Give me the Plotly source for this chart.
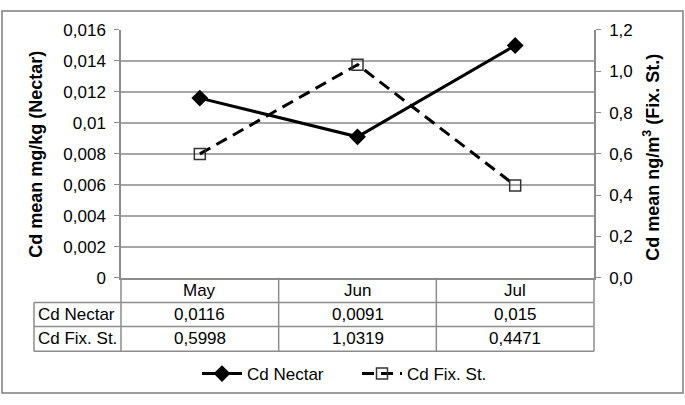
import plotly.graph_objects as go

months = ['May', 'Jun', 'Jul']
cd_nectar = [0.0116, 0.0091, 0.015]
cd_fix_st = [0.5998, 1.0319, 0.4471]
series_names = ['Cd Nectar', 'Cd Fix. St.']

left_ticks = [0, 0.002, 0.004, 0.006, 0.008, 0.01, 0.012, 0.014, 0.016]
left_labels = ['0', '0,002', '0,004', '0,006', '0,008', '0,01', '0,012', '0,014', '0,016']

W, H = 685, 405
FONT = 'Liberation Sans, Arial, sans-serif'
GRID = '#a6a6a6'
LINE = '#8c8c8c'


def px(x):
    return x / W


def py(y):
    return 1 - y / H


def fmt(v):
    return str(v).replace('.', ',')


fig = go.Figure()

fig.add_trace(go.Scatter(x=list(range(len(months))), y=cd_nectar, name=series_names[0],
                         mode='lines+markers',
                         line=dict(color='black', width=3),
                         marker=dict(symbol='diamond', size=13, color='black')))
fig.add_trace(go.Scatter(x=list(range(len(months))), y=cd_fix_st, name=series_names[1],
                         mode='lines+markers', yaxis='y2',
                         line=dict(color='black', width=3, dash='12px,7px'),
                         marker=dict(symbol='square-open', size=11, color='#333333',
                                     line=dict(width=1.5))))

# plot area in pixels
x0, x1, y0, y1 = 121, 594, 22, 282

fig.update_layout(
    width=W, height=H,
    margin=dict(l=0, r=0, t=0, b=0),
    paper_bgcolor='white', plot_bgcolor='white',
    separators=',.',
    font=dict(family=FONT, size=17, color='black'),
    showlegend=True,
    legend=dict(orientation='h', x=px(357), xanchor='center', y=py(383), yanchor='middle',
                font=dict(size=17), itemwidth=40, entrywidth=105, entrywidthmode='pixels'),
    xaxis=dict(domain=[px(x0), px(x1)], range=[-0.5, 2.5], showticklabels=False,
               showgrid=False, zeroline=False, showline=True, linecolor=LINE, linewidth=1.5,
               ticks=''),
    yaxis=dict(domain=[py(y1), py(y0)], range=[0, 0.016], tickvals=left_ticks,
               ticktext=left_labels, showgrid=True, gridcolor=GRID, gridwidth=1.5,
               zeroline=False, showline=True, linecolor=LINE, linewidth=1.5,
               ticks='outside', ticklen=5, tickcolor=LINE, ticklabelstandoff=5),
    yaxis2=dict(overlaying='y', side='right', range=[0, 1.2], dtick=0.2, tickformat='.1f',
                showgrid=False, zeroline=False, showline=True, linecolor=LINE, linewidth=1.5,
                ticks='outside', ticklen=5, tickcolor=LINE, ticklabelstandoff=5),
)

shapes = []
# outer border
shapes.append(dict(type='rect', xref='paper', yref='paper', x0=px(2), x1=px(683),
                   y0=py(403), y1=py(2), line=dict(color='#7f7f7f', width=1.5)))
# data table
r1, r2, r3 = 308, 333, 359
for yy in (r1, r2, r3):
    shapes.append(dict(type='line', xref='paper', yref='paper', x0=px(34), x1=px(x1),
                       y0=py(yy), y1=py(yy), line=dict(color=LINE, width=1.5)))
shapes.append(dict(type='line', xref='paper', yref='paper', x0=px(34), x1=px(34),
                   y0=py(r1), y1=py(r3), line=dict(color=LINE, width=1.5)))
for xx in (x0, x1):
    shapes.append(dict(type='line', xref='paper', yref='paper', x0=px(xx), x1=px(xx),
                       y0=py(y1), y1=py(r3), line=dict(color=LINE, width=1.5)))
for i in range(len(months) - 1):
    shapes.append(dict(type='line', xref='x', yref='paper', x0=i + 0.5, x1=i + 0.5,
                       y0=py(y1), y1=py(r3), line=dict(color=LINE, width=1.5)))
fig.update_layout(shapes=shapes)

ann = []
for i, m in enumerate(months):
    ann.append(dict(x=i, y=py((y1 + r1) / 2), xref='x', yref='paper', text=m))
    ann.append(dict(x=i, y=py((r1 + r2) / 2), xref='x', yref='paper', text=fmt(cd_nectar[i])))
    ann.append(dict(x=i, y=py((r2 + r3) / 2), xref='x', yref='paper', text=fmt(cd_fix_st[i])))
ann.append(dict(x=px(36), y=py((r1 + r2) / 2), xref='paper', yref='paper', xanchor='left',
                text=series_names[0]))
ann.append(dict(x=px(36), y=py((r2 + r3) / 2), xref='paper', yref='paper', xanchor='left',
                text=series_names[1]))
# axis titles
ann.append(dict(x=px(36), y=py(153), xref='paper', yref='paper', textangle=-90,
                text='<b>Cd mean mg/kg (Nectar)</b>', font=dict(size=18)))
ann.append(dict(x=px(652), y=py(156), xref='paper', yref='paper', textangle=-90,
                text='<b>Cd mean ng/m<sup>3</sup> (Fix. St.)</b>', font=dict(size=18)))
for a in ann:
    a.setdefault('xanchor', 'center')
    a['yanchor'] = 'middle'
    a['showarrow'] = False
fig.update_layout(annotations=ann)

fig.write_html('out.html', config={'displayModeBar': False},
               post_script="document.body.style.margin='0';")
